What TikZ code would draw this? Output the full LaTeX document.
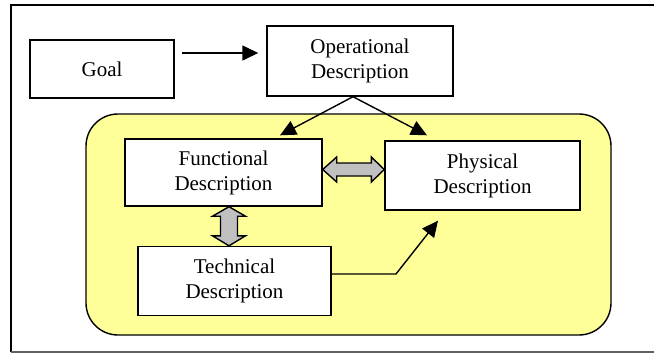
\documentclass[tikz,border=0pt]{standalone}
\usepackage{fontspec}
\setmainfont{Liberation Serif}
\usetikzlibrary{arrows.meta,calc}
\definecolor{paleyellow}{HTML}{FFFF99}
\definecolor{arrowgray}{HTML}{C0C0C0}
\definecolor{framegray}{HTML}{606060}
\begin{document}
\begin{tikzpicture}[x=1pt,y=-1pt,
  box/.style={draw=black,line width=1.4pt,fill=white,inner sep=0pt,align=center,
    font=\fontsize{21}{25}\selectfont},
  arr/.style={draw=black,line width=1.4pt,-{Triangle[length=16pt,width=15pt]}},
  fat/.style={draw=black,line width=1.4pt,fill=arrowgray,line join=miter}]
\useasboundingbox (0,0) rectangle (654,354);
% outer frame
\draw[line width=1.6pt] (11,352) -- (11,5) -- (660,5);
\draw[line width=1.6pt,framegray] (11,352) -- (660,352);
% yellow region
\draw[line width=1.4pt,fill=paleyellow,rounded corners=32pt] (86,114) rectangle (611,335);
% boxes
\node[box,minimum width=144pt,minimum height=58pt] (goal) at (102,69) {Goal};
\node[box,minimum width=186pt,minimum height=70pt] (op) at (360,61) {Operational\\Description};
\node[box,minimum width=197pt,minimum height=67pt] (func) at (223.5,172.5) {Functional\\Description};
\node[box,minimum width=195pt,minimum height=69pt] (phys) at (482.5,175.5) {Physical\\Description};
\node[box,minimum width=193pt,minimum height=69pt] (tech) at (234.5,281) {Technical\\Description};
% arrows
\draw[arr] ([xshift=7pt,yshift=16pt]goal.east) -- ([xshift=-8pt,yshift=8pt]op.west);
\draw[arr] ([xshift=-7pt]op.south) -- ([xshift=56.5pt,yshift=3pt]func.north);
\draw[arr] ([xshift=-7pt]op.south) -- ([xshift=-55.5pt,yshift=5pt]phys.north);
\coordinate (bend) at (396,274);
\draw[arr] ([yshift=7pt]tech.east) -- (bend) -- ([xshift=-44.5pt,yshift=-10pt]phys.south);
% horizontal double arrow
\coordinate (hL) at ([yshift=3pt]func.east);
\coordinate (hR) at (phys.west |- hL);
\draw[fat] (hL) -- ($(hL)+(14,-12.5)$) -- ($(hL)+(14,-6.5)$) -- ($(hR)+(-13,-6.5)$)
  -- ($(hR)+(-13,-12.5)$) -- (hR) -- ($(hR)+(-13,12.5)$) -- ($(hR)+(-13,6.5)$)
  -- ($(hL)+(14,6.5)$) -- ($(hL)+(14,12.5)$) -- cycle;
% vertical double arrow
\coordinate (vT) at ([xshift=5.5pt]func.south);
\coordinate (vB) at (vT |- tech.north);
\draw[fat] (vT) -- ($(vT)+(16.5,9.5)$) -- ($(vT)+(8.5,9.5)$) -- ($(vB)+(8.5,-10)$)
  -- ($(vB)+(16.5,-10)$) -- (vB) -- ($(vB)+(-16.5,-10)$) -- ($(vB)+(-8.5,-10)$)
  -- ($(vT)+(-8.5,9.5)$) -- ($(vT)+(-16.5,9.5)$) -- cycle;
\end{tikzpicture}
\end{document}
